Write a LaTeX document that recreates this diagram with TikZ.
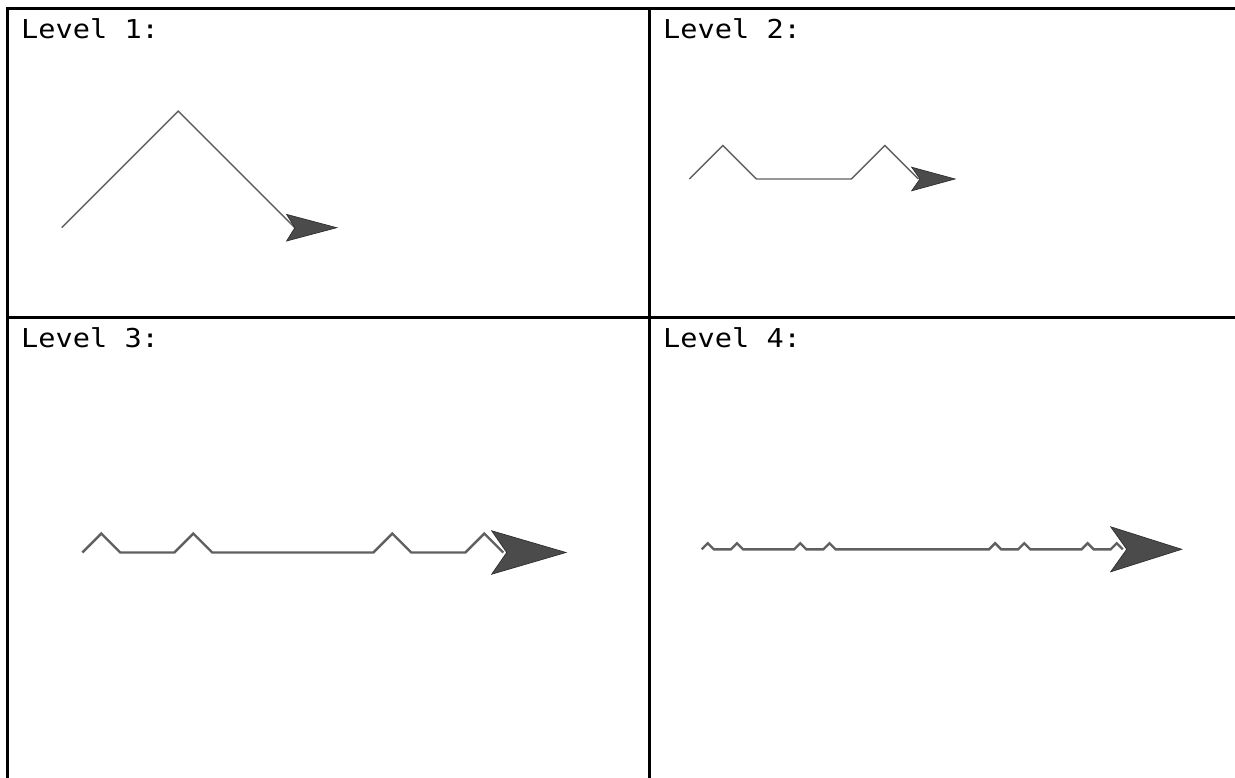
\documentclass[tikz,border=0pt]{standalone}
\usepackage{fontspec}
\newfontfamily\lvlfont{DejaVu Sans Mono}[FakeStretch=1.1]
\definecolor{linegray}{HTML}{606060}
\definecolor{darrowfill}{HTML}{4B4B4B}
\definecolor{darrowedge}{HTML}{2E2E2E}
\tikzset{
  rule/.style={draw=black,line width=3pt},
  label/.style={anchor=base west,inner sep=0pt,font=\lvlfont\fontsize{26}{30}\selectfont},
  thinpath/.style={draw=linegray,line width=1.4pt,miter limit=10},
  thickpath/.style={draw=linegray,line width=2.4pt,miter limit=10},
  dartstyle/.style={fill=darrowfill,draw=darrowedge,line width=0.7pt,line join=miter}
}
\begin{document}
\begin{tikzpicture}[x=1pt,y=-1pt]
\useasboundingbox (0,0) rectangle (1235,778);
\fill[white] (0,0) rectangle (1235,778);
% table rules
\coordinate (tl) at (6,8.5);
\coordinate (tr) at (1235,8.5);
\coordinate (ml) at (6,317);
\coordinate (mr) at (1235,317);
\coordinate (lt) at (7.5,7);
\coordinate (lb) at (7.5,778);
\coordinate (ct) at (649.2,7);
\coordinate (cb) at (649.2,778);
\draw[rule] (tl) -- (tr);
\draw[rule] (ml) -- (mr);
\draw[rule] (lt) -- (lb);
\draw[rule] (ct) -- (cb);
% labels
\node[label] (t1) at (21,39) {Level 1:};
\node[label] (t2) at (663,39) {Level 2:};
\node[label] (t3) at (21,347) {Level 3:};
\node[label] (t4) at (663,347) {Level 4:};
% Level 1
\coordinate (s1) at (61.7,227.7);
\coordinate (e1) at (294.9,227.7);
\draw[thinpath] (s1) -- ++(116.6,-116.6) -- (e1);
\fill[dartstyle] ([shift={(-8.3,-13.3)}]e1) -- ([shift={(0,0)}]e1) -- ([shift={(-8.3,13.3)}]e1) -- ([shift={(41.8,0)}]e1) -- cycle;
% Level 2
\coordinate (s2) at (689.3,179);
\coordinate (e2) at (918.3,179);
\draw[thinpath] (s2) -- ++(33.5,-33.5) -- ++(33.5,33.5) -- ++(95,0) -- ++(33.5,-33.5) -- (e2);
\fill[dartstyle] ([shift={(-6.6,-11.8)}]e2) -- ([shift={(1.7,0)}]e2) -- ([shift={(-6.6,11.8)}]e2) -- ([shift={(36.7,0)}]e2) -- cycle;
% Level 3
\coordinate (s3) at (82.3,552.5);
\coordinate (e3) at (503.3,552.5);
\draw[thickpath] (s3) -- ++(19,-19) -- ++(19,19) -- ++(54,0)
  -- ++(19,-19) -- ++(19,19) -- ++(161,0)
  -- ++(19,-19) -- ++(19,19) -- ++(54,0)
  -- ++(19,-19) -- (e3);
\fill[dartstyle] ([shift={(-11.6,-21.7)}]e3) -- ([shift={(3.4,0)}]e3) -- ([shift={(-11.6,21.7)}]e3) -- ([shift={(62.7,0)}]e3) -- cycle;
% Level 4
\coordinate (s4) at (701.7,549.3);
\coordinate (e4) at (1122.8,549.3);
\draw[thickpath] (s4) -- ++(6.05,-6.05) -- ++(6.05,6.05) -- ++(17.1,0)
  -- ++(6.05,-6.05) -- ++(6.05,6.05) -- ++(51.2,0)
  -- ++(6.05,-6.05) -- ++(6.05,6.05) -- ++(17.1,0)
  -- ++(6.05,-6.05) -- ++(6.05,6.05) -- ++(153.5,0)
  -- ++(6.05,-6.05) -- ++(6.05,6.05) -- ++(17.1,0)
  -- ++(6.05,-6.05) -- ++(6.05,6.05) -- ++(51.2,0)
  -- ++(6.05,-6.05) -- ++(6.05,6.05) -- ++(17.1,0)
  -- ++(6.05,-6.05) -- (e4);
\fill[dartstyle] ([shift={(-12.1,-22.5)}]e4) -- ([shift={(3.9,0)}]e4) -- ([shift={(-12.1,22.5)}]e4) -- ([shift={(58.9,0)}]e4) -- cycle;
\end{tikzpicture}
\end{document}
